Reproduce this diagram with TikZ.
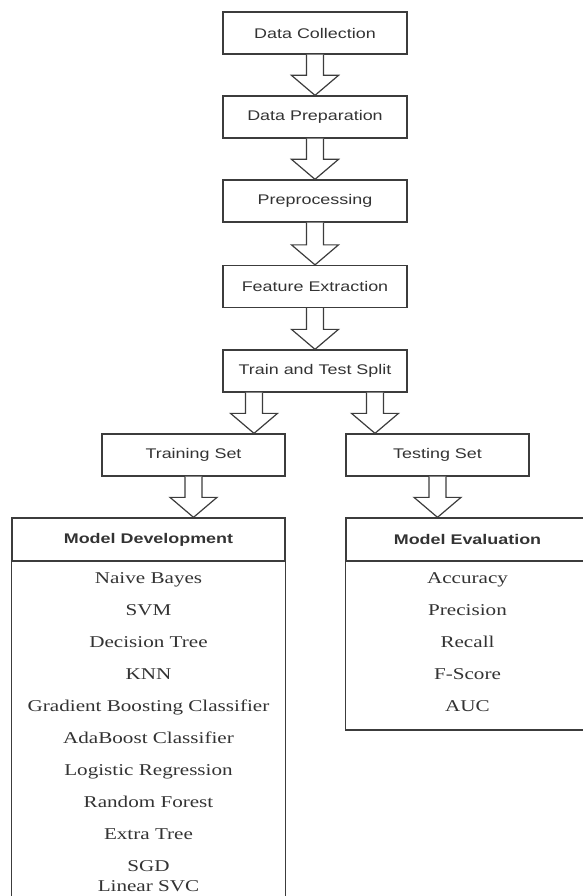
\documentclass[tikz,border=0pt]{standalone}
\usepackage{fontspec}
\usetikzlibrary{positioning, calc}
\newfontfamily\boxfont[FakeStretch=1.28]{Liberation Sans}
\newfontfamily\listfont[FakeStretch=1.28]{Liberation Serif}
\definecolor{lineGray}{HTML}{3C3C3C}
\definecolor{textGray}{HTML}{333333}
\tikzset{
  stage/.style={rectangle, draw=lineGray, line width=1.3pt,
    minimum width=184pt, minimum height=42pt, inner sep=2pt,
    font=\boxfont\fontsize{14}{16}\selectfont, text=textGray},
  setbox/.style={stage, minimum width=183pt},
  headbox/.style={stage, minimum height=43pt,
    font=\boxfont\bfseries\fontsize{14}{16}\selectfont},
  item/.style={font=\listfont\fontsize{16.5}{18}\selectfont, text=textGray, inner sep=0pt},
  fatarrow/.style={draw=lineGray, line width=1.2pt, fill=white, line join=miter},
  body/.style={draw=lineGray, line width=1.3pt},
}
% hollow block arrow from #1 (top) down to tip #2
\newcommand{\fatarrow}[2]{%
  \draw[fatarrow] ($#1+(-8.5,0)$) -- ($#2+(-8.5,-20)$) -- ($#2+(-23.5,-20)$)
    -- #2 -- ($#2+(23.5,-20)$) -- ($#2+(8.5,-20)$) -- ($#1+(8.5,0)$);}

\begin{document}
\begin{tikzpicture}[x=1pt, y=-1pt]
  \useasboundingbox (0,0) rectangle (583,896);
  \clip (0,0) rectangle (583,896);

  % ---- Main pipeline ---------------------------------------------------
  \node[stage] (collect) at (315,33)    {Data Collection};
  \node[stage] (prepare) at (315,117)   {Data Preparation};
  \node[stage] (preproc) at (315,201)   {Preprocessing};
  \node[stage] (feature) at (315,286.5) {Feature Extraction};
  \node[stage] (split)   at (315,371)   {Train and Test Split};

  \fatarrow{(collect.south)}{(prepare.north)}
  \fatarrow{(prepare.south)}{(preproc.north)}
  \fatarrow{(preproc.south)}{(feature.north)}
  \fatarrow{(feature.south)}{(split.north)}

  % ---- Training / testing sets -----------------------------------------
  \node[setbox] (train) at (193.5,455) {Training Set};
  \node[setbox] (test)  at (437.5,455) {Testing Set};

  \coordinate (splitL) at ($(split.south)+(-61,0)$);
  \coordinate (splitR) at ($(split.south)+(60,0)$);
  \fatarrow{(splitL)}{(splitL |- train.north)}
  \fatarrow{(splitR)}{(splitR |- test.north)}

  % ---- Model development -----------------------------------------------
  \node[headbox, minimum width=273pt] (devhead) at (148.5,539.5) {Model Development};
  \draw[body] (devhead.south west) -- ++(0,345);
  \draw[body] (devhead.south east) -- ++(0,345);
  \fatarrow{(train.south)}{(train.south |- devhead.north)}

  \foreach \t [count=\i] in {Naive Bayes, SVM, Decision Tree, KNN,
      Gradient Boosting Classifier, AdaBoost Classifier,
      Logistic Regression, Random Forest, Extra Tree, SGD}
    \node[item] (dev\i) at (148.5,548+32*\i) {\strut\t};
  \node[item] (dev11) at (148.5,888) {\strut Linear SVC};

  % ---- Model evaluation ------------------------------------------------
  \node[headbox, minimum width=243pt] (evalhead) at (467.5,539.5) {Model Evaluation};
  \draw[body] (evalhead.south west) |- (evalhead.south east |- 0,730) -- (evalhead.south east);
  \fatarrow{(test.south)}{(test.south |- evalhead.north)}

  \foreach \t [count=\i] in {Accuracy, Precision, Recall, F-Score, AUC}
    \node[item] (eval\i) at (467.5,548+32*\i) {\strut\t};

\end{tikzpicture}
\end{document}
